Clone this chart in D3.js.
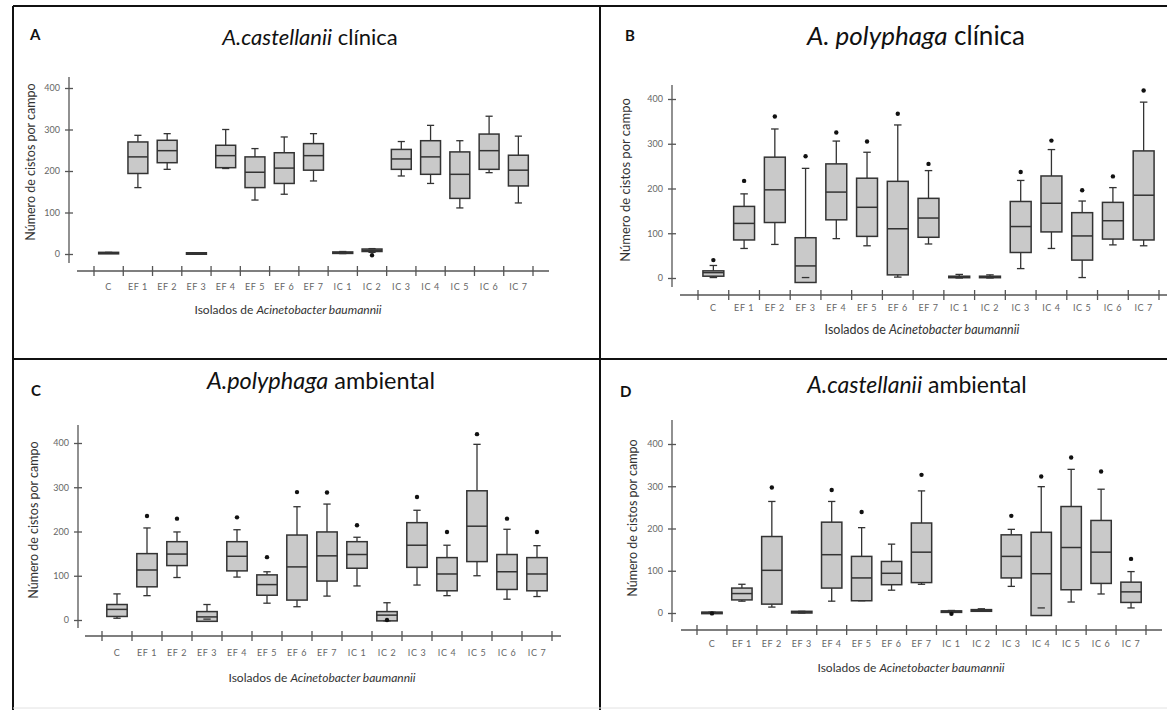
<!DOCTYPE html>
<html>
<head>
<meta charset="utf-8">
<script src="https://cdn.jsdelivr.net/npm/d3@7"></script>
<style>
  html, body { margin: 0; padding: 0; background: #ffffff; }
  svg { display: block; }
</style>
</head>
<body>
<svg id="chart" width="1167" height="710"></svg>
<script>
// ---------------- DATA ----------------
const categories = ["C", "EF 1", "EF 2", "EF 3", "EF 4", "EF 5", "EF 6", "EF 7",
                    "IC 1", "IC 2", "IC 3", "IC 4", "IC 5", "IC 6", "IC 7"];
const yTickValues = [0, 100, 200, 300, 400];

// each row: [lower whisker, Q1, median, Q3, upper whisker]
const statsA = [
  [2, 2, 3, 4, 4], [160, 194, 234, 270, 286], [204, 220, 249, 274, 290], [1, 1, 2, 3, 3],
  [206, 208, 237, 262, 300], [130, 160, 197, 234, 254], [144, 170, 207, 244, 282], [176, 202, 237, 266, 290],
  [1, 2, 3, 5, 6], [4, 6, 9, 12, 13], [188, 204, 229, 252, 271], [170, 192, 234, 273, 310],
  [111, 134, 192, 246, 273], [196, 204, 249, 289, 332], [123, 164, 202, 238, 284]
];
const outliersA = [null, null, null, null, null, null, null, null, null, -3, null, null, null, null, null];

const statsB = [
  [1, 4, 12, 16, 28], [66, 85, 122, 160, 188], [75, 124, 197, 270, 333], [1, -10, 27, 90, 245],
  [88, 130, 192, 255, 306], [72, 93, 158, 223, 281], [2, 7, 110, 216, 342], [76, 91, 134, 178, 240],
  [0, 1, 2, 4, 8], [0, 1, 2, 4, 7], [21, 57, 115, 171, 218], [66, 103, 167, 228, 287],
  [1, 40, 94, 146, 172], [74, 87, 128, 169, 202], [72, 85, 185, 284, 393]
];
const outliersB = [40, 217, 361, 272, 325, 305, 367, 255, null, null, 237, 307, 196, 227, 419];

const statsC = [
  [4, 8, 24, 35, 59], [55, 75, 113, 150, 208], [96, 123, 149, 177, 199], [2, -3, 7, 19, 35],
  [97, 111, 144, 177, 204], [38, 56, 80, 102, 109], [30, 45, 120, 192, 256], [54, 88, 145, 199, 262],
  [77, 117, 148, 177, 187], [-2, -2, 11, 19, 39], [79, 119, 169, 220, 248], [55, 66, 104, 141, 169],
  [100, 132, 212, 292, 397], [47, 69, 109, 148, 205], [53, 66, 104, 141, 168]
];
const outliersC = [null, 235, 229, null, 232, 142, 289, 288, 214, 0, 278, 199, 420, 229, 199];

const statsD = [
  [0, 0, 1, 2, 2], [28, 31, 46, 59, 68], [14, 21, 101, 181, 264], [0, 0, 2, 4, 4],
  [28, 59, 138, 215, 264], [29, 29, 83, 134, 202], [54, 67, 94, 122, 163], [68, 72, 144, 213, 289],
  [2, 2, 4, 5, 6], [4, 4, 6, 8, 10], [63, 83, 134, 185, 198], [12, -6, 93, 191, 299],
  [26, 55, 155, 252, 340], [45, 70, 144, 219, 293], [12, 25, 50, 73, 98]
];
const outliersD = [-1, null, 297, null, 291, 239, null, 327, -2, null, 230, 323, 368, 335, 128];

const panelLetters = ["A", "B", "C", "D"];
const titleSpecies = ["A.castellanii", "A. polyphaga", "A.polyphaga", "A.castellanii"];
const titleRest = [" clínica", " clínica", " ambiental", " ambiental"];
const yAxisTitle = "Número de cistos por campo";
const xAxisTitlePlain = "Isolados de ";
const xAxisTitleItalic = "Acinetobacter baumannii";

// ---------------- LAYOUT ----------------
const layouts = [
  { yAxisX: 69, yZero: 254, y400: 88, axisTop: 77, axisBottom: 263, xAxisY: 271, xStart: 77, xEnd: 549,
    band: [94, 533], tickLabelY: 290, xTitle: [288, 314], yTitle: [32, 162], title: [310, 45], titleSize: 22,
    letter: [30, 40], ySize: 12.5, xSize: 12 },
  { yAxisX: 672, yZero: 278, y400: 99, axisTop: 85, axisBottom: 287, xAxisY: 295, xStart: 680, xEnd: 1167,
    band: [698, 1159], tickLabelY: 311, xTitle: [922, 334], yTitle: [627, 180], title: [916, 45], titleSize: 26,
    letter: [625, 41], ySize: 13, xSize: 12.5 },
  { yAxisX: 78, yZero: 620, y400: 443, axisTop: 425, axisBottom: 628, xAxisY: 636, xStart: 85, xEnd: 561,
    band: [102, 552], tickLabelY: 656, xTitle: [322, 682], yTitle: [35, 520], title: [321, 389], titleSize: 23.5,
    letter: [31, 396], ySize: 12.5, xSize: 12 },
  { yAxisX: 672, yZero: 613, y400: 444, axisTop: 420, axisBottom: 622, xAxisY: 630, xStart: 681, xEnd: 1162,
    band: [697, 1146], tickLabelY: 647, xTitle: [911, 672], yTitle: [634, 518], title: [917, 393], titleSize: 23,
    letter: [620, 397], ySize: 12.5, xSize: 12 }
];

const allStats = [statsA, statsB, statsC, statsD];
const allOutliers = [outliersA, outliersB, outliersC, outliersD];

const FONT = "Lato, 'Open Sans', sans-serif";
const svg = d3.select("#chart");

// frame
const frame = svg.append("g").attr("stroke", "#111").attr("stroke-width", 2);
frame.append("line").attr("x1", 13).attr("x2", 1167).attr("y1", 6).attr("y2", 6);
frame.append("line").attr("x1", 13).attr("x2", 13).attr("y1", 6).attr("y2", 710);
frame.append("line").attr("x1", 600).attr("x2", 600).attr("y1", 6).attr("y2", 710);
frame.append("line").attr("x1", 13).attr("x2", 1167).attr("y1", 359).attr("y2", 359);
svg.append("line").attr("x1", 13).attr("x2", 1167).attr("y1", 708).attr("y2", 708)
  .attr("stroke", "#e2e2e2").attr("stroke-width", 1);

layouts.forEach((L, p) => {
  const g = svg.append("g");
  const stats = allStats[p];
  const outs = allOutliers[p];

  const x = d3.scaleBand().domain(categories).range(L.band).paddingInner(0).paddingOuter(0);
  const y = d3.scaleLinear().domain([0, 400]).range([L.yZero, L.y400]);
  const bw = x.bandwidth() * 0.68;
  const capW = bw * 0.36;
  const axisColor = "#555";

  // panel letter
  g.append("text").attr("x", L.letter[0]).attr("y", L.letter[1])
    .attr("font-family", FONT).attr("font-weight", "bold").attr("font-size", 15)
    .attr("fill", "#111").text(panelLetters[p]);

  // title
  const t = g.append("text").attr("x", L.title[0]).attr("y", L.title[1])
    .attr("text-anchor", "middle").attr("font-family", FONT).attr("font-size", L.titleSize)
    .attr("fill", "#111");
  t.append("tspan").attr("font-style", "italic").text(titleSpecies[p]);
  t.append("tspan").text(titleRest[p]);

  // y axis
  g.append("line").attr("x1", L.yAxisX).attr("x2", L.yAxisX).attr("y1", L.axisTop).attr("y2", L.axisBottom)
    .attr("stroke", axisColor).attr("stroke-width", 1.3);
  const yAxis = d3.axisLeft(y).tickValues(yTickValues).tickSize(0).tickPadding(9);
  const ya = g.append("g").attr("transform", `translate(${L.yAxisX},0)`).call(yAxis);
  ya.select(".domain").remove();
  ya.selectAll(".tick text").attr("font-family", FONT).attr("font-size", 9).attr("fill", "#666");
  ya.selectAll(".tick").append("line").attr("x1", -4).attr("x2", 4)
    .attr("stroke", axisColor).attr("stroke-width", 1.3);

  // x axis
  g.append("line").attr("x1", L.xStart).attr("x2", L.xEnd).attr("y1", L.xAxisY).attr("y2", L.xAxisY)
    .attr("stroke", axisColor).attr("stroke-width", 1.3);
  const boundaries = categories.map(c => x(c)).concat([x(categories[categories.length - 1]) + x.bandwidth()]);
  g.selectAll("line.xtick").data(boundaries).enter().append("line").attr("class", "xtick")
    .attr("x1", d => d).attr("x2", d => d).attr("y1", L.xAxisY - 5).attr("y2", L.xAxisY + 5)
    .attr("stroke", axisColor).attr("stroke-width", 1.3);
  g.selectAll("text.xlab").data(categories).enter().append("text").attr("class", "xlab")
    .attr("x", d => x(d) + x.bandwidth() / 2).attr("y", L.tickLabelY)
    .attr("text-anchor", "middle").attr("font-family", FONT).attr("font-size", 9)
    .attr("letter-spacing", 0.6).attr("fill", "#666").text(d => d);

  // axis titles
  g.append("text").attr("transform", `translate(${L.yTitle[0]},${L.yTitle[1]}) rotate(-90)`)
    .attr("text-anchor", "middle").attr("dominant-baseline", "middle")
    .attr("font-family", FONT).attr("font-size", L.ySize).attr("fill", "#333").text(yAxisTitle);
  const xt = g.append("text").attr("x", L.xTitle[0]).attr("y", L.xTitle[1])
    .attr("text-anchor", "middle").attr("font-family", FONT).attr("font-size", L.xSize).attr("fill", "#333");
  xt.append("tspan").text(xAxisTitlePlain);
  xt.append("tspan").attr("font-style", "italic").text(xAxisTitleItalic);

  // boxes
  const box = g.selectAll("g.box").data(stats.map((s, i) => ({ cat: categories[i], s, o: outs[i] })))
    .enter().append("g").attr("class", "box");
  const stroke = "#333";
  box.each(function (d) {
    const b = d3.select(this);
    const cx = x(d.cat) + x.bandwidth() / 2;
    const [lo, q1, med, q3, hi] = d.s;
    if (hi > q3) {
      b.append("line").attr("x1", cx).attr("x2", cx).attr("y1", y(q3)).attr("y2", y(hi))
        .attr("stroke", stroke).attr("stroke-width", 1.3);
    }
    if (lo < q1) {
      b.append("line").attr("x1", cx).attr("x2", cx).attr("y1", y(q1)).attr("y2", y(lo))
        .attr("stroke", stroke).attr("stroke-width", 1.3);
    }
    b.append("rect").attr("x", cx - bw / 2).attr("width", bw)
      .attr("y", y(q3)).attr("height", Math.max(1.5, y(q1) - y(q3)))
      .attr("fill", "#c9c9c9").attr("stroke", stroke).attr("stroke-width", 1.5);
    b.append("line").attr("x1", cx - bw / 2).attr("x2", cx + bw / 2).attr("y1", y(med)).attr("y2", y(med))
      .attr("stroke", stroke).attr("stroke-width", 1.5);
    [lo, hi].forEach(v => {
      b.append("line").attr("x1", cx - capW / 2).attr("x2", cx + capW / 2).attr("y1", y(v)).attr("y2", y(v))
        .attr("stroke", stroke).attr("stroke-width", 1.3);
    });
    if (d.o !== null) {
      b.append("circle").attr("cx", cx).attr("cy", y(d.o)).attr("r", 2.2).attr("fill", "#111");
    }
  });
});
</script>
</body>
</html>
